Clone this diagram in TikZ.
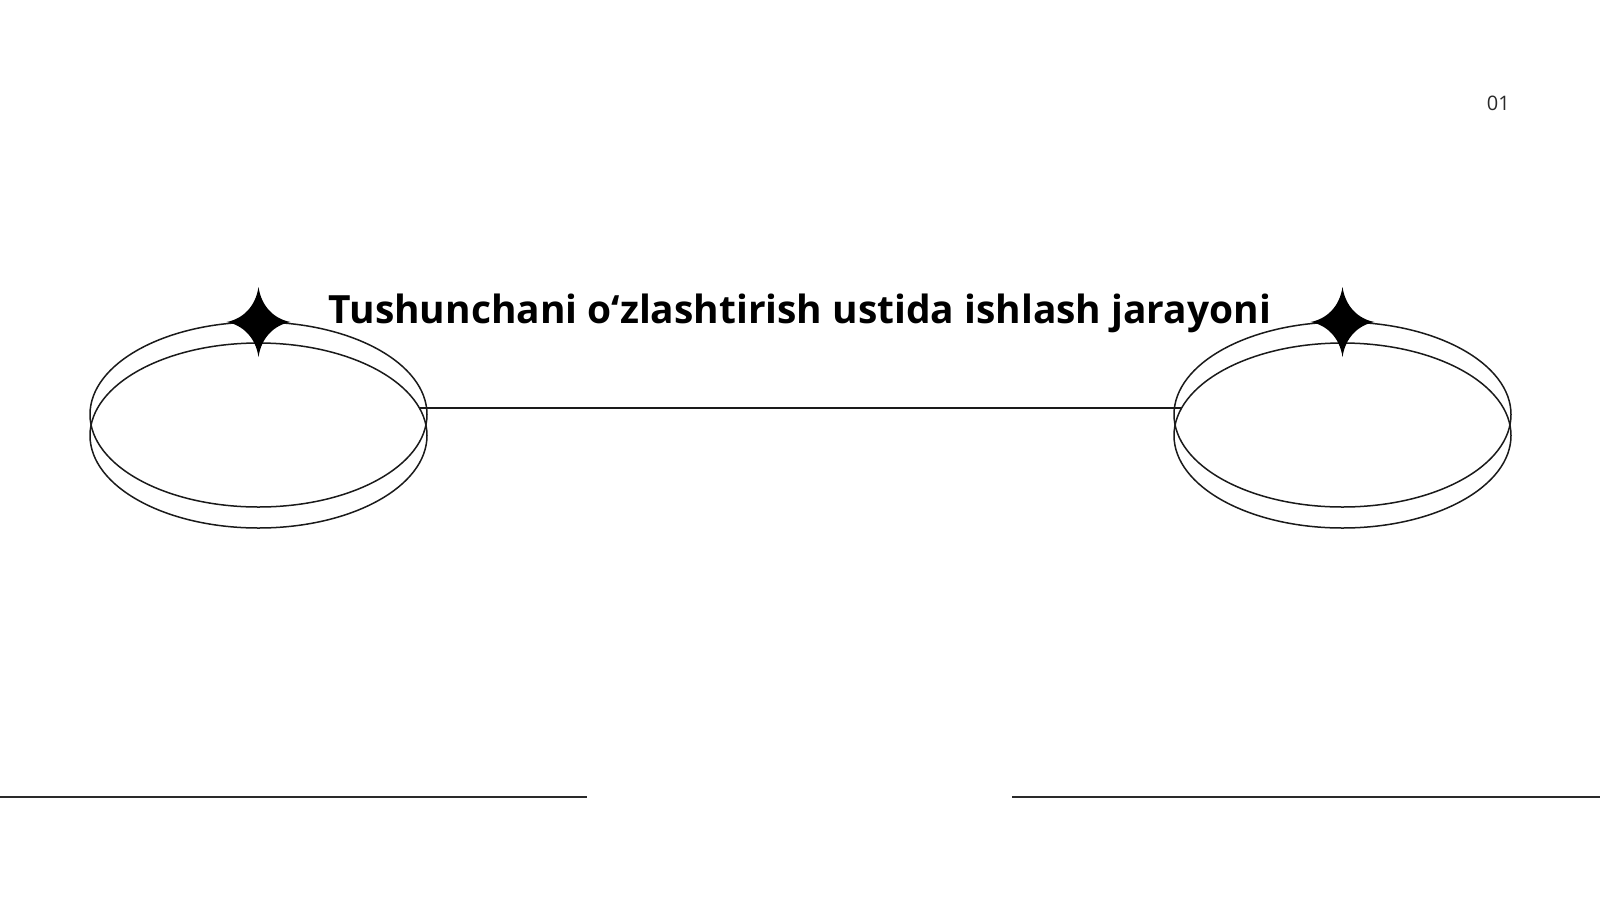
\documentclass[tikz,border=0pt]{standalone}
\usepackage{fontspec}
\setmainfont{Open Sans}
\usetikzlibrary{shapes.geometric}
\definecolor{ink}{HTML}{1A1A1A}
\definecolor{rule}{HTML}{2A2A2A}
\tikzset{
  ring/.style={draw=ink, line width=1.5pt, ellipse, minimum width=337pt, minimum height=185pt, inner sep=0pt, outer sep=0pt},
  link/.style={draw=ink, line width=1.5pt},
  baseline rule/.style={draw=rule, line width=2pt},
  sparkle/.pic={\fill[black] (0,-35) .. controls (3,-15) and (16,-3) .. (32,0) .. controls (16,3) and (3,15) .. (0,35) .. controls (-3,15) and (-16,3) .. (-32,0) .. controls (-16,-3) and (-3,-15) .. cycle;},
  title/.style={font=\bfseries\fontsize{38.9}{46}\selectfont, text=black, inner sep=0pt, anchor=base},
  pagenum/.style={font=\fontsize{20}{24}\selectfont, text=rule, inner sep=0pt, anchor=base east}
}
\begin{document}
\begin{tikzpicture}[x=1pt,y=-1pt]
\useasboundingbox[fill=white] (0,0) rectangle (1600,900);
% left ring
\node[ring] (la) at (258.5,414.5) {};
\node[ring] (lb) at (258.5,435.5) {};
% right ring
\node[ring] (ra) at (1342.5,414.5) {};
\node[ring] (rb) at (1342.5,435.5) {};
% connector ends on the lower ellipses
\coordinate (le) at (419.4,408);
\coordinate (re) at (1181.6,408);
\draw[link] (le) -- (re);
% sparkles
\pic at (258.5,322) {sparkle};
\pic at (1342.5,322) {sparkle};
% title
\node[title] (t) at (800,323) {Tushunchani o‘zlashtirish ustida ishlash jarayoni};
% page number
\node[pagenum] (pn) at (1510,110) {01};
% bottom rules
\coordinate (b1) at (0,797);
\coordinate (b2) at (587,797);
\coordinate (b3) at (1012,797);
\coordinate (b4) at (1600,797);
\draw[baseline rule] (b1) -- (b2);
\draw[baseline rule] (b3) -- (b4);
\end{tikzpicture}
\end{document}
